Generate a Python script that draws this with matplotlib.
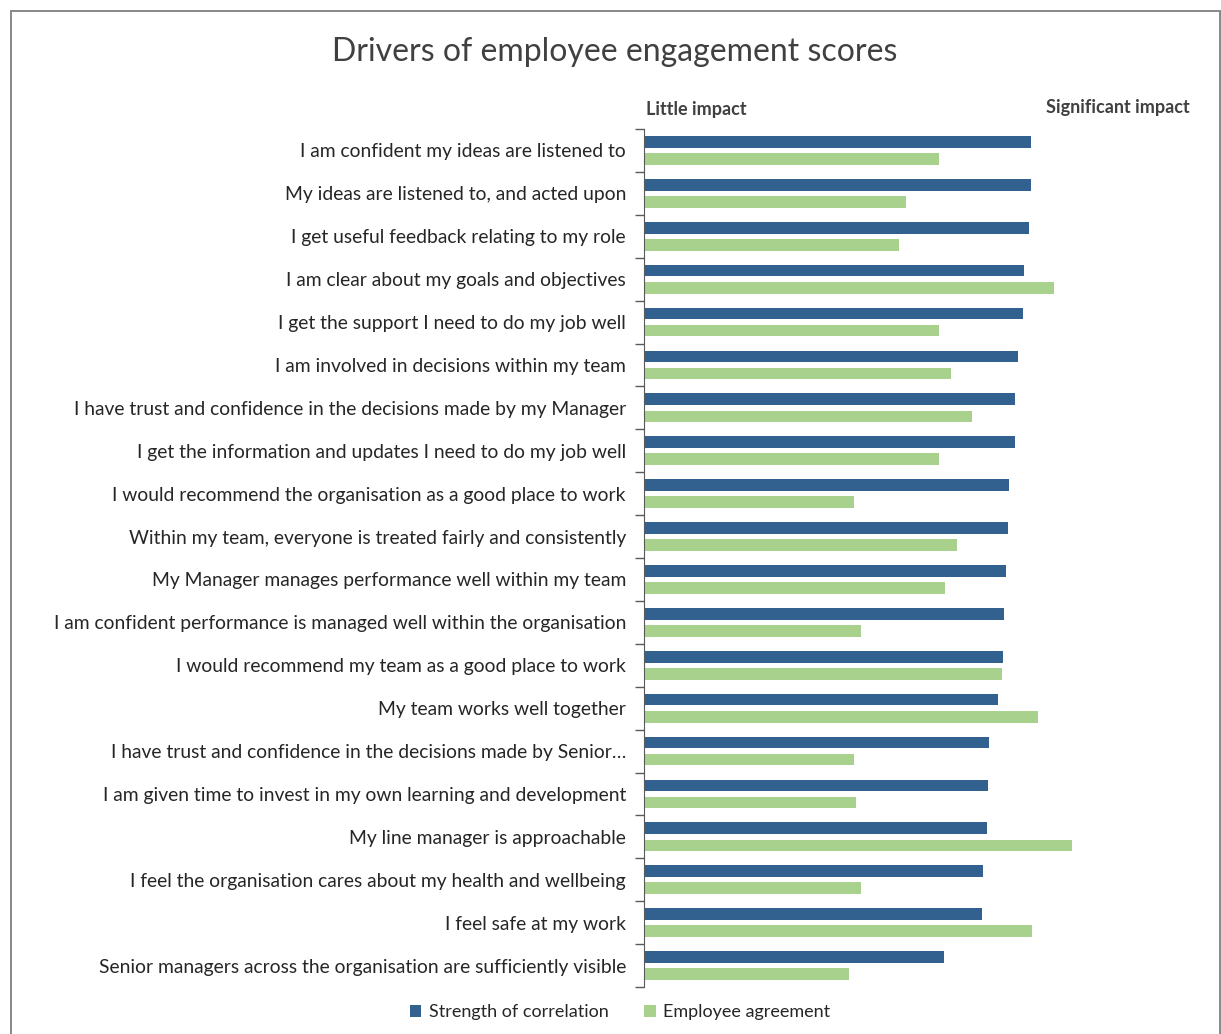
import matplotlib

matplotlib.use("Agg")

import matplotlib.pyplot as plt
import numpy as np
from matplotlib.patches import Patch, Rectangle

plt.rcParams["font.family"] = ["Lato", "DejaVu Sans"]

TITLE = "Drivers of employee engagement scores"

categories = [
    "I am confident my ideas are listened to",
    "My ideas are listened to, and acted upon",
    "I get useful feedback relating to my role",
    "I am clear about my goals and objectives",
    "I get the support I need to do my job well",
    "I am involved in decisions within my team",
    "I have trust and confidence in the decisions made by my Manager",
    "I get the information and updates I need to do my job well",
    "I would recommend the organisation as a good place to work",
    "Within my team, everyone is treated fairly and consistently",
    "My Manager manages performance well within my team",
    "I am confident performance is managed well within the organisation",
    "I would recommend my team as a good place to work",
    "My team works well together",
    "I have trust and confidence in the decisions made by Senior\u2026",
    "I am given time to invest in my own learning and development",
    "My line manager is approachable",
    "I feel the organisation cares about my health and wellbeing",
    "I feel safe at my work",
    "Senior managers across the organisation are sufficiently visible",
]

# both series on one unlabelled 0-1 scale
correlation = [0.702, 0.702, 0.698, 0.689, 0.687, 0.679, 0.674, 0.674, 0.663, 0.661,
               0.657, 0.653, 0.651, 0.642, 0.627, 0.624, 0.622, 0.615, 0.613, 0.544]
agreement = [0.536, 0.476, 0.463, 0.745, 0.536, 0.557, 0.596, 0.536, 0.382, 0.568,
             0.546, 0.393, 0.649, 0.715, 0.382, 0.384, 0.776, 0.393, 0.704, 0.372]

BLUE = "#33618F"
GREEN = "#A9D18E"
INK = "#262626"
DARK = "#404040"
W, H = 1221, 1034

fig = plt.figure(figsize=(W / 100, H / 100), dpi=100)
ax = fig.add_axes([644 / W, 1 - 987 / H, (1195 - 644) / W, (987 - 129) / H])

y = np.arange(len(categories))
bh = 0.272
ax.barh(y - 0.2, correlation, height=bh, color=BLUE, label="Strength of correlation")
ax.barh(y + 0.2, agreement, height=bh, color=GREEN, label="Employee agreement")

ax.set_xlim(0, 1)
ax.set_ylim(len(categories) - 0.5, -0.5)
ax.set_xticks([])
ax.set_yticks(y)
ax.set_yticklabels(categories, fontsize=13.9, color=INK)
ax.tick_params(axis="y", which="major", length=0, pad=13)
ax.set_yticks(np.arange(-0.5, len(categories)), minor=True)
ax.tick_params(axis="y", which="minor", length=6.5, width=1, color="#595959")
for sp in ("top", "right", "bottom"):
    ax.spines[sp].set_visible(False)
ax.spines["left"].set_color("#595959")

fig.text(615 / W, 1 - 52 / H, TITLE, ha="center", va="center", fontsize=23, color=DARK)
fig.text(646 / W, 1 - 109 / H, "Little impact", ha="left", va="center", fontsize=13, color=DARK, fontweight="bold")
fig.text(1190 / W, 1 - 108 / H, "Significant impact", ha="right", va="center", fontsize=13, color=DARK,
         fontweight="bold")

handles = [Patch(facecolor=BLUE, label="Strength of correlation"), Patch(facecolor=GREEN, label="Employee agreement")]
fig.legend(handles=handles, loc="center", bbox_to_anchor=(620 / W, 1 - 1012 / H), ncol=2, frameon=False,
           fontsize=13, handlelength=0.65, handleheight=0.65, handletextpad=0.4, columnspacing=2.0,
           labelcolor=INK)

# chart frame
fig.patches.append(Rectangle((11 / W, -0.05), (1219.5 - 11) / W, 1.05 - 11 / H, transform=fig.transFigure,
                             fill=False, edgecolor="#7F7F7F", linewidth=1.3))

fig.savefig("out.png", dpi=100, facecolor="white")
